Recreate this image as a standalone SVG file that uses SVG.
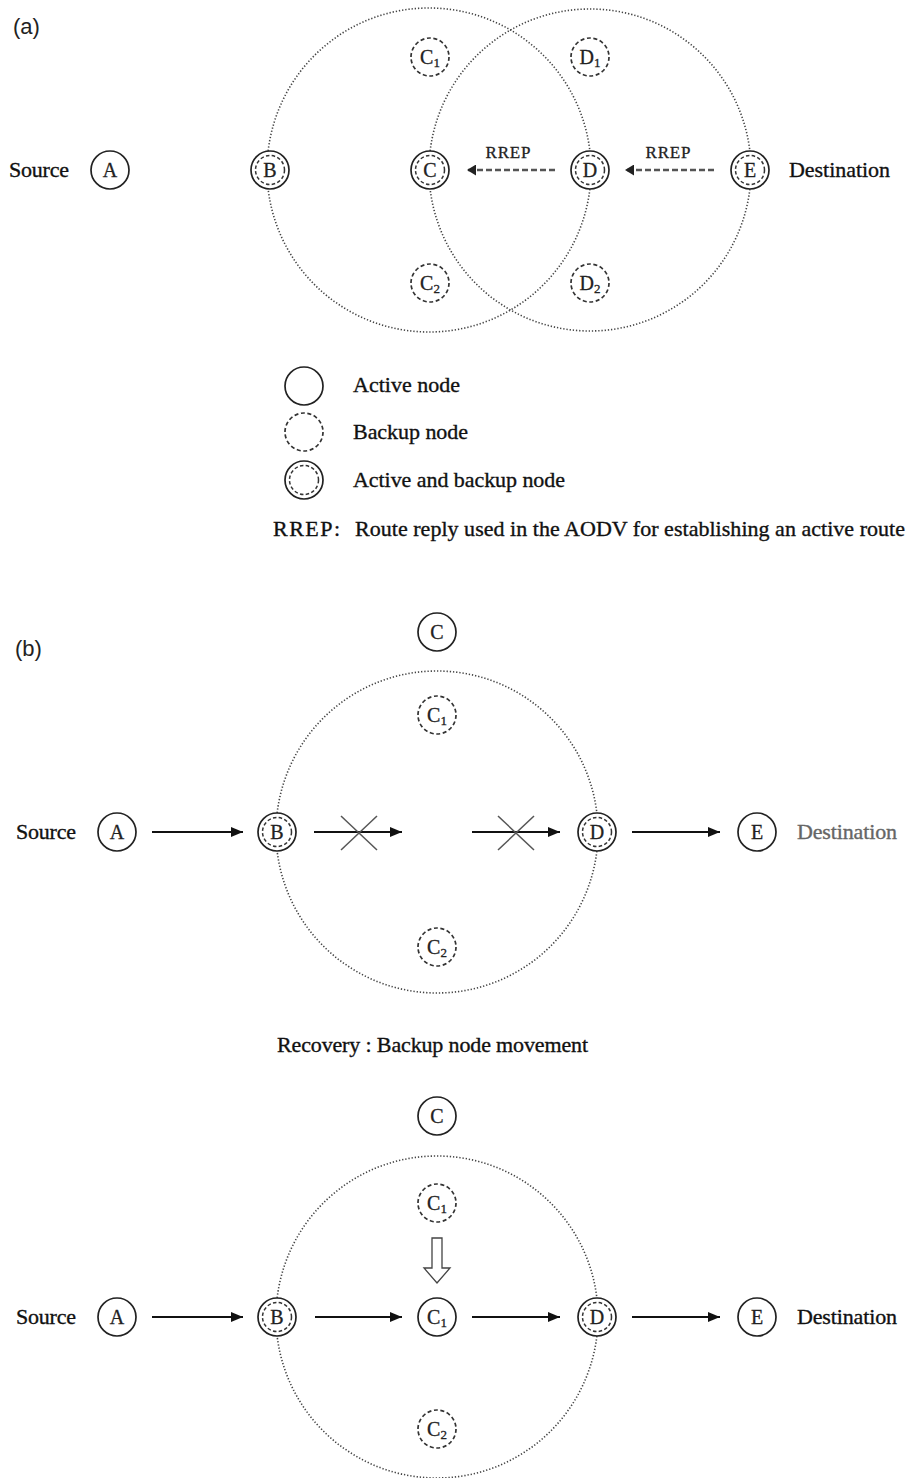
<svg xmlns="http://www.w3.org/2000/svg" width="913" height="1478" viewBox="0 0 913 1478">
<defs>
<style>
.t{font-family:"Liberation Serif","Times New Roman",serif;fill:#111;font-size:22px;stroke:#111;stroke-width:0.35}
.h{font-family:"Liberation Sans",Arial,sans-serif;font-size:22px;fill:#222}
.nl{font-family:"Liberation Serif","Times New Roman",serif;font-size:20px;text-anchor:middle;fill:#222;stroke:#222;stroke-width:0.3}
.sub{font-size:13px}
.rl{font-family:"Liberation Serif","Times New Roman",serif;font-size:17px;text-anchor:middle;fill:#222;stroke:#222;stroke-width:0.3}
.act{fill:#fff;stroke:#222;stroke-width:1.7}
.bak{fill:#fff;stroke:#333;stroke-width:1.7;stroke-dasharray:4 2.6}
.in{fill:none;stroke:#333;stroke-width:1.5;stroke-dasharray:3.5 2.3}
.rng{fill:none;stroke:#444;stroke-width:1.6;stroke-dasharray:1.3 1.9}
.rrep{stroke:#555;stroke-width:2.6;stroke-dasharray:6 3;fill:none}
.arr{stroke:#111;stroke-width:1.9;fill:none}
.x{stroke:#555;stroke-width:1.5}
.hollow{fill:#fff;stroke:#444;stroke-width:1.3}
</style>
<marker id="rh" markerUnits="userSpaceOnUse" markerWidth="9" markerHeight="11" refX="9" refY="5.5" orient="auto"><path d="M0,0 L9,5.5 L0,11 z" fill="#222"/></marker>
<marker id="sh" markerUnits="userSpaceOnUse" markerWidth="12" markerHeight="10" refX="12" refY="5" orient="auto"><path d="M0,0 L12,5 L0,10 z" fill="#111"/></marker>
</defs>
<rect width="913" height="1478" fill="#fff"/>

<!-- panel labels and texts -->
<g id="texts">
<text class="h" x="13" y="34">(a)</text>
<text class="t" x="9" y="177" textLength="60">Source</text>
<text class="t" x="789" y="177" textLength="101">Destination</text>
<text class="h" x="15" y="656">(b)</text>
<text class="t" x="16" y="839" textLength="60">Source</text>
<text class="t" x="797" y="839" textLength="100" style="fill:#666;stroke:#666">Destination</text>
<text class="t" x="277" y="1052" textLength="311">Recovery : Backup node movement</text>
<text class="t" x="16" y="1324" textLength="60">Source</text>
<text class="t" x="797" y="1324" textLength="100">Destination</text>
</g>

<!-- radio ranges -->
<g id="ranges">
<circle class="rng" cx="429" cy="170" r="162"/>
<circle class="rng" cx="590" cy="170" r="161"/>
<circle class="rng" cx="437" cy="832" r="161"/>
<circle class="rng" cx="437" cy="1317" r="161"/>
</g>

<!-- connectors -->
<g id="connectors">
<line class="rrep" x1="555" y1="170" x2="467" y2="170" marker-end="url(#rh)"/>
<text class="rl" x="508" y="158" textLength="45">RREP</text>
<line class="rrep" x1="714" y1="170" x2="625" y2="170" marker-end="url(#rh)"/>
<text class="rl" x="668" y="158" textLength="45">RREP</text>

<line class="arr" x1="152" y1="832" x2="243" y2="832" marker-end="url(#sh)"/>
<line class="arr" x1="314" y1="832" x2="402" y2="832" marker-end="url(#sh)"/>
<line class="x" x1="341" y1="816" x2="377" y2="850"/>
<line class="x" x1="341" y1="850" x2="377" y2="816"/>
<line class="arr" x1="472" y1="832" x2="560" y2="832" marker-end="url(#sh)"/>
<line class="x" x1="498" y1="816" x2="534" y2="850"/>
<line class="x" x1="498" y1="850" x2="534" y2="816"/>
<line class="arr" x1="632" y1="832" x2="720" y2="832" marker-end="url(#sh)"/>

<line class="arr" x1="152" y1="1317" x2="243" y2="1317" marker-end="url(#sh)"/>
<line class="arr" x1="315" y1="1317" x2="402" y2="1317" marker-end="url(#sh)"/>
<line class="arr" x1="472" y1="1317" x2="560" y2="1317" marker-end="url(#sh)"/>
<line class="arr" x1="632" y1="1317" x2="720" y2="1317" marker-end="url(#sh)"/>
<polygon class="hollow" points="432,1238 442,1238 442,1268 450,1268 437,1283 424,1268 432,1268"/>
</g>

<!-- (a) nodes -->
<g id="a-A"><circle class="act" cx="110" cy="170" r="19"/><text class="nl" x="110" y="177">A</text></g>
<g id="a-B"><circle class="act" cx="270" cy="170" r="19"/><circle class="in" cx="270" cy="170" r="14.5"/><text class="nl" x="270" y="177">B</text></g>
<g id="a-C"><circle class="act" cx="430" cy="170" r="19"/><circle class="in" cx="430" cy="170" r="14.5"/><text class="nl" x="430" y="177">C</text></g>
<g id="a-C1"><circle class="bak" cx="430" cy="57" r="19"/><text class="nl" x="430" y="64">C<tspan class="sub" dy="3">1</tspan></text></g>
<g id="a-C2"><circle class="bak" cx="430" cy="283" r="19"/><text class="nl" x="430" y="290">C<tspan class="sub" dy="3">2</tspan></text></g>
<g id="a-D"><circle class="act" cx="590" cy="170" r="19"/><circle class="in" cx="590" cy="170" r="14.5"/><text class="nl" x="590" y="177">D</text></g>
<g id="a-D1"><circle class="bak" cx="590" cy="57" r="19"/><text class="nl" x="590" y="64">D<tspan class="sub" dy="3">1</tspan></text></g>
<g id="a-D2"><circle class="bak" cx="590" cy="283" r="19"/><text class="nl" x="590" y="290">D<tspan class="sub" dy="3">2</tspan></text></g>
<g id="a-E"><circle class="act" cx="750" cy="170" r="19"/><circle class="in" cx="750" cy="170" r="14.5"/><text class="nl" x="750" y="177">E</text></g>

<!-- legend -->
<g id="legend">
<circle class="act" cx="304" cy="386" r="19"/>
<text class="t" x="353" y="392" textLength="107">Active node</text>
<circle class="bak" cx="304" cy="432" r="19"/>
<text class="t" x="353" y="439" textLength="115">Backup node</text>
<circle class="act" cx="304" cy="480" r="19"/><circle class="in" cx="304" cy="480" r="14.5"/>
<text class="t" x="353" y="487" textLength="212">Active and backup node</text>
<text class="t" x="273" y="536" textLength="67">RREP:</text>
<text class="t" x="355" y="536" textLength="550">Route reply used in the AODV for establishing an active route</text>
</g>

<!-- (b) top nodes -->
<g id="b1-C"><circle class="act" cx="437" cy="632" r="19"/><text class="nl" x="437" y="639">C</text></g>
<g id="b1-C1"><circle class="bak" cx="437" cy="715" r="19"/><text class="nl" x="437" y="722">C<tspan class="sub" dy="3">1</tspan></text></g>
<g id="b1-C2"><circle class="bak" cx="437" cy="947" r="19"/><text class="nl" x="437" y="954">C<tspan class="sub" dy="3">2</tspan></text></g>
<g id="b1-A"><circle class="act" cx="117" cy="832" r="19"/><text class="nl" x="117" y="839">A</text></g>
<g id="b1-B"><circle class="act" cx="277" cy="832" r="19"/><circle class="in" cx="277" cy="832" r="14.5"/><text class="nl" x="277" y="839">B</text></g>
<g id="b1-D"><circle class="act" cx="597" cy="832" r="19"/><circle class="in" cx="597" cy="832" r="14.5"/><text class="nl" x="597" y="839">D</text></g>
<g id="b1-E"><circle class="act" cx="757" cy="832" r="19"/><text class="nl" x="757" y="839">E</text></g>

<!-- (b) recovery nodes -->
<g id="b2-C"><circle class="act" cx="437" cy="1116" r="19"/><text class="nl" x="437" y="1123">C</text></g>
<g id="b2-C1b"><circle class="bak" cx="437" cy="1203" r="19"/><text class="nl" x="437" y="1210">C<tspan class="sub" dy="3">1</tspan></text></g>
<g id="b2-C1"><circle class="act" cx="437" cy="1317" r="19"/><text class="nl" x="437" y="1324">C<tspan class="sub" dy="3">1</tspan></text></g>
<g id="b2-C2"><circle class="bak" cx="437" cy="1429" r="19"/><text class="nl" x="437" y="1436">C<tspan class="sub" dy="3">2</tspan></text></g>
<g id="b2-A"><circle class="act" cx="117" cy="1317" r="19"/><text class="nl" x="117" y="1324">A</text></g>
<g id="b2-B"><circle class="act" cx="277" cy="1317" r="19"/><circle class="in" cx="277" cy="1317" r="14.5"/><text class="nl" x="277" y="1324">B</text></g>
<g id="b2-D"><circle class="act" cx="597" cy="1317" r="19"/><circle class="in" cx="597" cy="1317" r="14.5"/><text class="nl" x="597" y="1324">D</text></g>
<g id="b2-E"><circle class="act" cx="757" cy="1317" r="19"/><text class="nl" x="757" y="1324">E</text></g>
</svg>
